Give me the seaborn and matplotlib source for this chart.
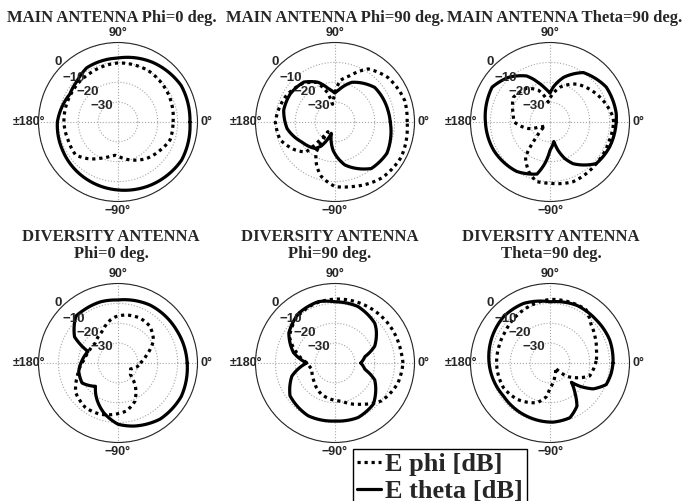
import numpy as np
import pandas as pd
import matplotlib.pyplot as plt
from matplotlib.lines import Line2D
import seaborn as sns

sns.set_style('white')
plt.rcParams['font.family'] = ['Liberation Sans', 'DejaVu Sans']

# radiation patterns: angle [deg], level [dB]
# main antenna, phi = 0
main_phi0_ang_theta = [0, 30, 60, 90, 120, 135, 150, 165, 180, 207, 245, 270, 298, 329]
main_phi0_theta = [-3.8, -3.3, -5.3, -7.8, -8.5, -10.9, -12, -10.8, -9.5, -8.7, -7, -5.8, -4.2, -2.7]
main_phi0_ang_phi = [0, 30, 45, 60, 90, 120, 135, 150, 180, 200, 218, 230, 244, 257, 265, 274, 292, 308, 326, 341]
main_phi0_phi = [-12.3, -11, -10.5, -10, -10.3, -11.7, -12, -12.5, -12.8, -13.3, -13, -16, -19.7, -22.3, -23.2, -22.2, -19.3, -16.7, -14.5, -12.3]

# main antenna, phi = 90
main_phi90_ang_theta = [0, 12, 41, 67, 81, 90, 101, 113, 128, 148, 167, 188, 211, 233, 240, 252, 266, 283, 308, 329, 342]
main_phi90_theta = [-12.2, -12.7, -13.5, -18.3, -23, -25.5, -23, -18.3, -14.5, -13.4, -13.5, -15.7, -20.5, -23.3, -26, -34, -25.8, -17.8, -10.3, -9.5, -10.7]
main_phi90_ang_phi = [0, 17, 40, 58, 72, 83, 93, 98, 104, 115, 130, 153, 180, 198, 215, 226, 231, 234, 238, 248, 256, 270, 284, 310, 332]
main_phi90_phi = [-3.7, -3.3, -5.2, -8.5, -15.5, -19, -28, -31, -25, -18, -14.7, -12, -10, -11, -15.5, -19, -30, -34, -22, -15.7, -11.7, -7.5, -6.5, -3.3, -2.3]

# main antenna, theta = 90
main_theta90_ang_theta = [0, 7, 32, 56, 73, 84, 90, 98, 105, 117, 133, 149, 180, 207, 236, 256, 263, 270, 281, 286, 292, 299, 318, 337]
main_theta90_theta = [-6.7, -6.4, -6.7, -10, -16.5, -22, -25.5, -23, -20, -14, -9.3, -6, -7.5, -8.3, -10, -13, -19, -25.8, -30, -25, -20.2, -16, -8.7, -7.5]
main_theta90_ang_phi = [0, 5, 31, 55, 74, 85, 95, 110, 125, 146, 167, 180, 197, 205, 218, 228, 231, 235, 247, 257, 270, 291, 318, 343]
main_theta90_phi = [-8, -8.3, -12.7, -16.7, -21.8, -26, -30, -23, -19.3, -17.8, -21, -22, -28.7, -34, -37, -30, -25, -18.5, -12.8, -9.3, -9.2, -7.8, -8.7, -8.7]

# diversity antenna, phi = 0
div_phi0_ang_theta = [0, 29, 61, 90, 106, 123, 132, 149, 159, 175, 192, 209, 226, 240, 254, 270, 284, 307, 332]
div_phi0_theta = [-5.2, -6.2, -6.7, -8.3, -8, -8.3, -8.3, -14.5, -23.8, -22, -19.8, -19.3, -23.7, -18.8, -14, -9.2, -7.3, -4.7, -4]
div_phi0_ang_phi = [0, 16, 33, 49, 64, 81, 93, 100, 117, 139, 158, 175, 198, 215, 234, 251, 265, 280, 294, 307, 317, 335, 350]
div_phi0_phi = [-28.8, -25, -18.7, -15.5, -14.8, -15.5, -16.7, -18, -22.3, -24.8, -24.2, -22.8, -18.5, -14, -12.2, -12.7, -14, -15.5, -19, -25.5, -31.5, -33, -30]

# diversity antenna, phi = 90
div_phi90_ang_theta = [0, 12, 23, 39, 45, 68, 90, 105, 126, 147, 166, 180, 197, 216, 243, 270, 293, 313, 337, 348]
div_phi90_theta = [-27, -24.6, -18.3, -13.3, -11.7, -9.3, -9.2, -8, -9, -12.3, -18.5, -25.8, -17.3, -12, -10.2, -10.8, -10.2, -11.7, -18.3, -24.6]
div_phi90_ang_phi = [0, 9, 37, 60, 84, 95, 110, 130, 150, 165, 180, 195, 218, 247, 280, 303, 321, 342]
div_phi90_phi = [-5.8, -6.3, -6.7, -7.2, -7.7, -8, -8.5, -10, -13.5, -20, -26, -28, -26.3, -22.8, -20.5, -15.3, -9.8, -6.8]

# diversity antenna, theta = 90
div_theta90_ang_theta = [0, 21, 43, 65, 90, 114, 135, 155, 183, 215, 246, 273, 290, 302, 310, 318, 322, 329, 339, 350]
div_theta90_theta = [-8.3, -7.8, -8.2, -8, -9.2, -7.2, -7, -8, -9.5, -11.3, -10.8, -10.2, -10.7, -14.4, -20.5, -25.5, -21, -14.7, -9.7, -8.8]
div_theta90_ang_phi = [4, 16, 30, 43, 56, 90, 127, 145, 162, 187, 208, 228, 252, 264, 270, 290, 315, 321, 331, 342]
div_theta90_phi = [-16.6, -15.7, -13.8, -11.7, -7.6, -8, -11, -12.5, -13, -13.2, -13.5, -15.4, -19, -23, -27.5, -33, -36.5, -29.5, -24.7, -19]

titles = [['MAIN ANTENNA Phi=0 deg.'], ['MAIN ANTENNA Phi=90 deg.'], ['MAIN ANTENNA Theta=90 deg.'],
          ['DIVERSITY ANTENNA', 'Phi=0 deg.'], ['DIVERSITY ANTENNA', 'Phi=90 deg.'],
          ['DIVERSITY ANTENNA', 'Theta=90 deg.']]
r_ticks = [-30, -20, -10, 0]
r_labels = ['\u221230', '\u221220', '\u221210', '0']

panels = [
    (main_phi0_ang_phi, main_phi0_phi, main_phi0_ang_theta, main_phi0_theta),
    (main_phi90_ang_phi, main_phi90_phi, main_phi90_ang_theta, main_phi90_theta),
    (main_theta90_ang_phi, main_theta90_phi, main_theta90_ang_theta, main_theta90_theta),
    (div_phi0_ang_phi, div_phi0_phi, div_phi0_ang_theta, div_phi0_theta),
    (div_phi90_ang_phi, div_phi90_phi, div_phi90_ang_theta, div_phi90_theta),
    (div_theta90_ang_phi, div_theta90_phi, div_theta90_ang_theta, div_theta90_theta),
]

W, H = 683, 501
R = 79.5
centers = [(118, 122), (335, 122), (550, 122), (118, 363), (335, 363), (550, 363)]
title_pos = [(112, [21.5]), (335, [21.5]), (565, [21.5]),
             (111, [241, 258]), (330, [241, 258]), (551, [241, 258])]

dotted = (0, (1, 1.2))


def draw_curve(ax, ang, db, ls):
    # close the loop
    ang = np.append(ang, ang[0] + 360)
    db = np.append(db, db[0])
    df = pd.DataFrame({'theta': np.deg2rad(ang), 'db': db})
    sns.lineplot(data=df, x='theta', y='db', ax=ax, sort=False, estimator=None,
                 color='black', lw=2.3, linestyle=ls)
    # let the polar transform bend the segments instead of drawing chords
    ax.lines[-1].get_path()._interpolation_steps = 40


fig = plt.figure(figsize=(W / 100, H / 100), dpi=100)

for i, (cx, cy) in enumerate(centers):
    ax = fig.add_axes([(cx - R) / W, 1 - (cy + R) / H, 2 * R / W, 2 * R / H], polar=True)
    ang_p, db_p, ang_t, db_t = panels[i]
    draw_curve(ax, ang_p, db_p, dotted)
    draw_curve(ax, ang_t, db_t, '-')
    ax.set_xlabel('')
    ax.set_ylabel('')
    ax.set_ylim(-40, 0)
    ax.set_yticks(r_ticks)
    ax.set_yticklabels([])
    for v, lab in zip(r_ticks, r_labels):
        off = 2.8 if v == 0 else 1.6
        ax.text(np.deg2rad(135), v + off, lab, ha='center', va='center',
                fontsize=9.5, fontweight='bold', clip_on=False)
    ax.set_xticks(np.deg2rad([0, 90, 180, 270]))
    ax.set_xticklabels(['0\u00b0', '90\u00b0', '\u00b1180\u00b0', '\u221290\u00b0'], fontsize=9, fontweight='bold')
    ax.tick_params(axis='x', pad=-4)
    ax.grid(True, color='0.65', linestyle=':', linewidth=0.8)
    ax.spines['polar'].set_linewidth(0.8)

    tx, ys = title_pos[i]
    for line, ty in zip(titles[i], ys):
        fig.text(tx / W, 1 - ty / H, line, ha='center', va='baseline',
                 family='Liberation Serif', fontweight='bold', fontsize=12)

handles = [Line2D([0], [0], color='black', lw=2.3, linestyle=dotted),
           Line2D([0], [0], color='black', lw=2.3, linestyle='-')]
leg = fig.legend(handles, ['E phi [dB]', 'E theta [dB]'], loc='upper left',
                 bbox_to_anchor=(353 / W, 1 - 449 / H), borderaxespad=0, borderpad=0.15,
                 handlelength=0.9, handletextpad=0.15, labelspacing=0.12,
                 fancybox=False, edgecolor='black', framealpha=1,
                 prop={'family': 'Liberation Serif', 'weight': 'bold', 'size': 19})
leg.get_frame().set_linewidth(1.0)

fig.savefig('out.png', dpi=100)
